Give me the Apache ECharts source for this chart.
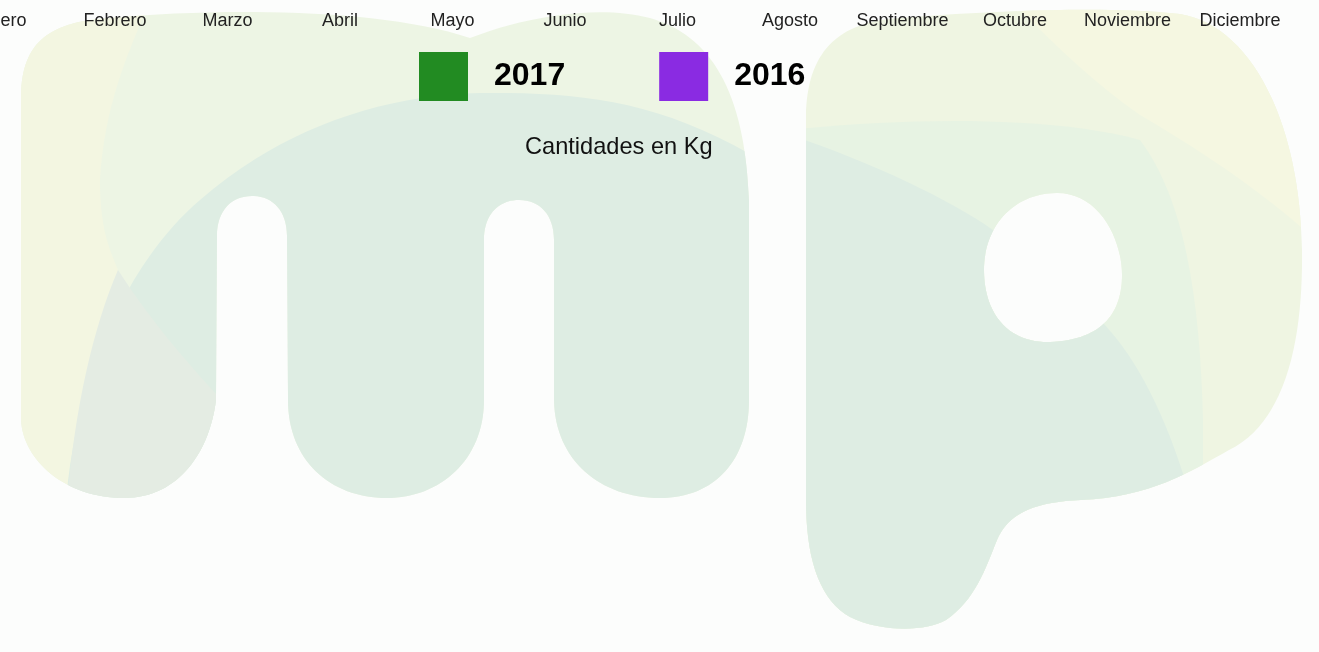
<!DOCTYPE html>
<html>
<head>
<meta charset="utf-8">
<script src="https://cdn.jsdelivr.net/npm/echarts@6/dist/echarts.min.js"></script>
<style>
  html, body { margin: 0; padding: 0; background: #fcfdfc; }
  #wrap { position: relative; width: 1319px; height: 652px; }
  #logo { position: absolute; left: 0; top: 0; }
  #main { position: absolute; left: 0; top: 0; width: 1319px; height: 652px; }
</style>
</head>
<body>
<div id="wrap">
  <!-- marca de agua "mp" del fondo -->
  <svg id="logo" width="1319" height="652" xmlns="http://www.w3.org/2000/svg">
    <defs>
      <clipPath id="clipM">
        <path d="M 21 420 L 21 100 C 21 45, 45 22, 110 18 C 220 8, 380 8, 470 38 C 530 15, 600 5, 650 18 C 710 35, 745 90, 749 200 L 749 400 C 749 460, 715 498, 660 498 C 600 498, 555 460, 554 400 L 554 240 C 554 215, 540 200, 519 200 C 498 200, 484 215, 484 240 L 484 400 C 484 460, 440 498, 387 498 C 330 498, 288 460, 288 400 L 287 236 C 287 210, 272 196, 252 196 C 232 196, 217 210, 217 236 L 216 400 C 210 450, 180 498, 124 498 C 65 498, 23 460, 21 420 Z"/>
      </clipPath>
      <clipPath id="clipP">
        <path d="M 806 120 C 806 60, 830 22, 900 18 C 980 12, 1100 5, 1180 14 C 1250 25, 1300 120, 1302 250 C 1303 330, 1290 420, 1229 450 C 1190 472, 1150 497, 1081 500 C 1040 502, 1010 510, 997 540 C 985 570, 975 600, 946 620 C 925 632, 880 632, 850 617 C 820 600, 806 560, 806 500 Z M 1057 193 C 1100 193, 1122 240, 1122 275 C 1122 310, 1105 340, 1050 342 C 1005 343, 984 310, 984 270 C 984 225, 1015 193, 1057 193 Z" clip-rule="evenodd"/>
      </clipPath>
    </defs>
    <g clip-path="url(#clipM)">
      <rect x="0" y="0" width="800" height="520" fill="#edf5e4"/>
      <path d="M 0 0 L 150 0 C 130 50, 105 100, 100 180 C 100 230, 110 250, 118 270 C 95 330, 75 400, 68 520 L 0 520 Z" fill="#f3f6e1"/>
      <path d="M 65 520 C 70 400, 118 270, 200 200 C 280 130, 380 95, 480 93 C 580 92, 660 100, 760 160 L 760 520 Z" fill="#deede3"/>
      <path d="M 118 270 C 150 320, 185 360, 217 395 L 217 520 L 66 520 C 72 420, 92 330, 118 270 Z" fill="#e4ece3"/>
    </g>
    <g clip-path="url(#clipP)">
      <rect x="790" y="0" width="530" height="652" fill="#eff5e2"/>
      <path d="M 1010 0 C 1050 40, 1090 80, 1140 115 C 1200 150, 1260 190, 1310 235 L 1310 0 Z" fill="#f5f7e1"/>
      <path d="M 790 130 C 900 118, 1050 115, 1140 140 C 1185 200, 1200 300, 1203 420 L 1203 652 L 790 652 Z" fill="#e7f3e3"/>
      <path d="M 790 135 C 880 165, 960 205, 1000 235 L 1100 320 C 1130 350, 1160 400, 1185 480 L 1185 652 L 790 652 Z" fill="#deede3"/>
    </g>
  </svg>
  <div id="main"></div>
</div>
<script>
// meses del eje
const meses = ['Enero', 'Febrero', 'Marzo', 'Abril', 'Mayo', 'Junio', 'Julio',
  'Agosto', 'Septiembre', 'Octubre', 'Noviembre', 'Diciembre'];
// cantidades en Kg (no se ve ninguna barra en la imagen)
const datos2017 = [0, 0, 0, 0, 0, 0, 0, 0, 0, 0, 0, 0];
const datos2016 = [0, 0, 0, 0, 0, 0, 0, 0, 0, 0, 0, 0];

let myChart = echarts.init(document.getElementById('main'));
let option = {
  backgroundColor: 'transparent',
  animation: false,
  title: {
    text: 'Cantidades en Kg',
    left: 525,
    top: 135,
    padding: 0,
    textStyle: {
      fontFamily: 'Liberation Sans, Arial, sans-serif',
      fontSize: 23.6,
      fontWeight: 'normal',
      color: '#111'
    }
  },
  legend: {
    left: 419,
    top: 52,
    padding: 0,
    icon: 'rect',
    itemWidth: 49,
    itemHeight: 49,
    itemGap: 94,
    textStyle: {
      fontFamily: 'Liberation Sans, Arial, sans-serif',
      fontSize: 32,
      fontWeight: 'bold',
      color: '#000',
      padding: [0, 0, 0, 21]
    }
  },
  grid: {
    left: 2.5,
    right: 79,
    top: 38,
    bottom: 40,
    containLabel: false,
    outerBoundsMode: 'none'
  },
  xAxis: {
    type: 'category',
    position: 'top',
    boundaryGap: false,
    data: meses,
    axisLine: { show: false },
    axisTick: { show: false },
    splitLine: { show: false },
    axisLabel: {
      interval: 0,
      margin: 8,
      hideOverlap: false,
      fontFamily: 'Liberation Sans, Arial, sans-serif',
      fontSize: 18,
      color: '#222'
    }
  },
  yAxis: {
    type: 'value',
    show: false
  },
  series: [
    {
      name: '2017',
      type: 'bar',
      data: datos2017,
      itemStyle: { color: '#228b22' }
    },
    {
      name: '2016',
      type: 'bar',
      data: datos2016,
      itemStyle: { color: '#8a2be2' }
    }
  ]
};
myChart.setOption(option);
</script>
</body>
</html>
